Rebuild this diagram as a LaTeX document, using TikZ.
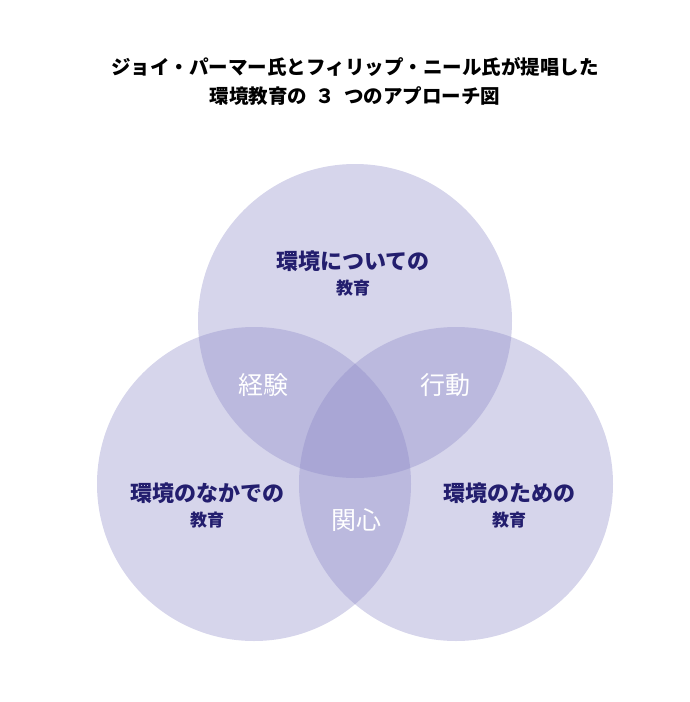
\documentclass[tikz,border=0pt]{standalone}
\usepackage{fontspec}
\setmainfont{Noto Sans CJK JP}
\usepackage{tikz}
\usetikzlibrary{positioning}
\definecolor{vennFill}{RGB}{134,131,196}
\definecolor{vennNavy}{HTML}{231E6E}
\tikzset{
  % One circle per approach. Translucent, so the overlaps darken by themselves.
  venn/circ/.style={
    circle, fill=vennFill, fill opacity=0.34, minimum size=314pt, inner sep=0pt
  },
  % Heading above the diagram.
  venn/title/.style={
    font=\bfseries\fontsize{19.5}{29}\selectfont, align=center, text=black
  },
  % Name of an approach, inside its own circle.
  venn/label/.style={
    font=\bfseries\fontsize{22}{25}\selectfont, align=center, text=vennNavy
  },
  % Shared part of two circles.
  venn/shared/.style={
    font=\fontsize{25}{28}\selectfont, text=white
  },
}
\newcommand{\SubLine}[1]{{\fontsize{17}{25}\selectfont #1}}

\begin{document}
\begin{tikzpicture}[x=1pt, y=-1pt]
\useasboundingbox (0,0) rectangle (690,702);

\node[venn/title] (title) at (355,81.5)
     {ジョイ・パーマー氏とフィリップ・ニール氏が提唱した\\
      環境教育の\hspace{0.45em}３\hspace{0.45em}つのアプローチ図};

\node[venn/circ] (about) at (355,321) {};
\node[venn/circ] (in)    at (254,484) {};
\node[venn/circ] (for)   at (456,484) {};

\node[venn/label] (aboutL) at (353,273.5) {環境についての\\\SubLine{教育}};
\node[venn/label] (inL)    at (207,505)   {環境のなかでの\\\SubLine{教育}};
\node[venn/label] (forL)   at (509,505)   {環境のための\\\SubLine{教育}};

\node[venn/shared] (exp) at (263,385) {経験};
\node[venn/shared] (act) at (445,385) {行動};
\node[venn/shared] (int) at (356,520) {関心};
\end{tikzpicture}
\end{document}
